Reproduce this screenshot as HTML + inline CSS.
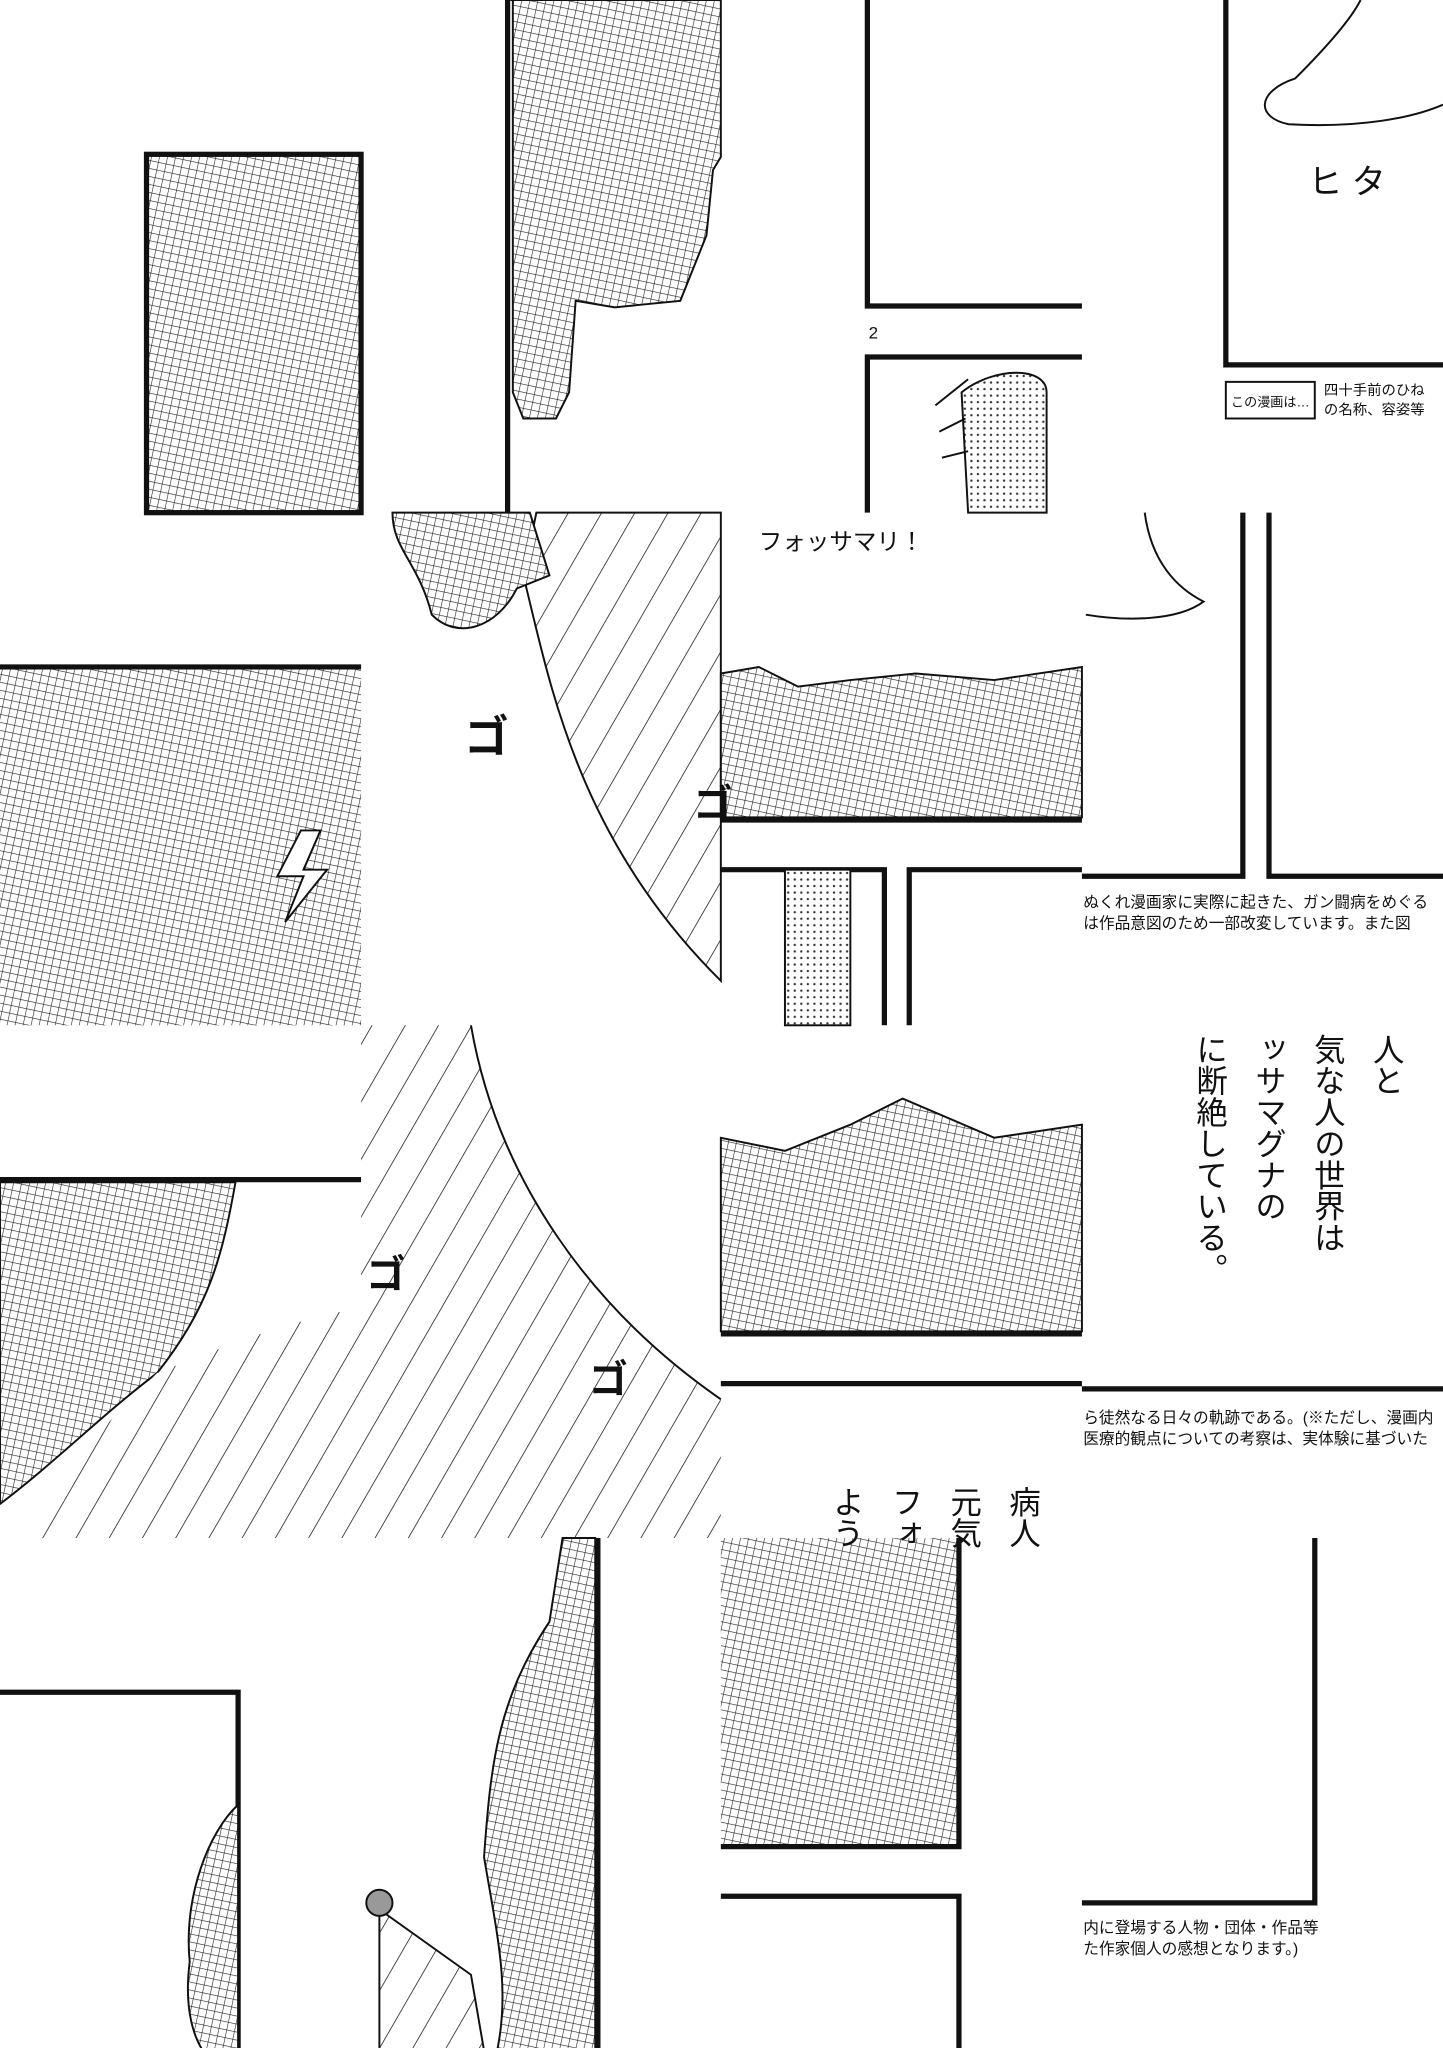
<!DOCTYPE html>
<html><head><meta charset="utf-8"><style>
html,body{margin:0;padding:0;background:#fff;}
svg{display:block;}
text{font-family:"Liberation Sans","Noto Sans CJK JP",sans-serif;fill:#111;}
</style></head><body>
<svg width="1443" height="2048" viewBox="0 0 1103 1566" preserveAspectRatio="none" xmlns="http://www.w3.org/2000/svg">
<defs>
<pattern id="ch" width="6" height="6" patternUnits="userSpaceOnUse" patternTransform="rotate(12)">
<rect width="6" height="6" fill="#fff"/>
<path d="M0 0H6M0 0V6" stroke="#222" stroke-width="0.9"/>
</pattern>
<pattern id="hl" width="22" height="22" patternUnits="userSpaceOnUse" patternTransform="rotate(-60)">
<rect width="22" height="22" fill="#fff"/><path d="M0 0H22" stroke="#111" stroke-width="1.2"/>
</pattern>
<pattern id="dot" width="5" height="5" patternUnits="userSpaceOnUse">
<rect width="5" height="5" fill="#fff"/><circle cx="2.5" cy="2.5" r="0.9" fill="#333"/>
</pattern>
</defs>
<rect width="1103" height="1566" fill="#fff"/>
<g stroke="#111" fill="none" stroke-linecap="butt">
<!-- Row 0 -->
<rect x="112" y="118" width="164" height="274" fill="url(#ch)" stroke-width="4"/>
<path d="M390 0H551V120L545 130L540 180L520 230L470 235L440 230L435 300L425 320L400 320L392 300V0Z" fill="url(#ch)" stroke-width="1.5"/>
<path d="M388 0V392" stroke-width="4"/>
<path d="M663 0V234H827" stroke-width="4"/>
<path d="M663 392V273H827" stroke-width="4"/>
<path d="M735 300C760 280 800 280 800 300L800 392H740Z" fill="url(#dot)" stroke-width="1.5"/>
<path d="M715 310L740 290M718 330L738 320M720 350L740 345" stroke-width="1.5"/>
<path d="M937 0V279H1103" stroke-width="4"/>
<path d="M1040 0C1030 20 1000 50 990 60C960 70 960 90 985 95C1040 98 1080 90 1103 80" stroke-width="1.5"/>
<rect x="937" y="292" width="68" height="28" stroke-width="1.5"/>
<!-- Row 1 -->
<path d="M0 510H276" stroke-width="4"/>
<rect x="0" y="512" width="276" height="272" fill="url(#ch)" stroke="none"/>
<path d="M230 635L212 670L232 670L218 705L250 665L232 665L245 635Z" fill="#fff" stroke-width="1.5"/>
<path d="M400 440C420 520 440 640 551 750V392H410Z" fill="url(#hl)" stroke-width="1.5"/>
<path d="M300 392C300 420 320 430 330 470C350 490 380 480 395 450L420 440L405 392Z" fill="url(#ch)" stroke-width="1.5"/>
<path d="M551 515L580 510L610 525L650 520L700 515L760 520L827 510V625H551Z" fill="url(#ch)" stroke-width="1.5"/>
<path d="M551 627H827" stroke-width="4"/>
<path d="M551 665H676V784M695 784V665H827" stroke-width="4"/>
<rect x="600" y="665" width="50" height="119" fill="url(#dot)" stroke-width="1.5"/>
<path d="M950 392V670H827M970 392V670H1103" stroke-width="4"/>
<path d="M875 392C880 430 900 450 920 460C900 475 860 475 830 470" stroke-width="1.5"/>
<!-- Row 2 -->
<path d="M0 902H276" stroke-width="4"/>
<path d="M0 904H180C170 960 160 1000 120 1050C80 1080 40 1120 0 1150Z" fill="url(#ch)" stroke-width="1.5"/>
<path d="M120 1050C80 1090 40 1130 20 1176H276V1000C220 1010 170 1030 120 1050Z" fill="url(#hl)" stroke="none"/>
<path d="M276 784H360C380 900 450 1000 551 1070V1176H276Z" fill="url(#hl)" stroke="none"/>
<path d="M360 784C380 900 450 1000 551 1070" stroke-width="1.5"/>
<path d="M551 870L600 880L650 860L690 840L760 870L827 860V1018H551Z" fill="url(#ch)" stroke-width="1.5"/>
<path d="M551 1020H827M551 1058H827" stroke-width="4"/>
<path d="M827 1062H1103" stroke-width="4"/>
<!-- Row 3 -->
<path d="M0 1294H182V1568" stroke-width="4"/>
<path d="M182 1380C160 1400 140 1450 145 1500C140 1540 150 1560 155 1568H182Z" fill="url(#ch)" stroke-width="1.5"/>
<path d="M455 1176V1568H380C390 1520 380 1480 370 1420C375 1350 380 1300 420 1240L430 1176Z" fill="url(#ch)" stroke-width="1.5"/>
<path d="M457 1176V1568" stroke-width="4"/>
<path d="M290 1460L360 1510L370 1568H290Z" fill="url(#hl)" stroke-width="1.5"/>
<circle cx="290" cy="1455" r="10" fill="#999" stroke-width="1.5"/>
<rect x="551" y="1176" width="182" height="234" fill="url(#ch)" stroke="none"/>
<path d="M551 1412H733V1176" stroke-width="4"/>
<path d="M551 1450H733V1568" stroke-width="4"/>
<path d="M1005 1176V1455H827" stroke-width="4"/>
</g>
<!-- Text -->
<text x="664" y="259" font-size="13">2</text>
<text x="1000" y="148" font-size="26">ヒ タ</text>
<text x="941" y="311" font-size="10">この漫画は…</text>
<text x="1012" y="302" font-size="11">四十手前のひね</text>
<text x="1012" y="317" font-size="11">の名称、容姿等</text>
<text x="580" y="420" font-size="18">フォッサマリ！</text>
<text x="355" y="575" font-size="34" font-weight="bold">ゴ</text>
<text x="530" y="625" font-size="30" font-weight="bold">ゴ</text>
<text x="828" y="694" font-size="12">ぬくれ漫画家に実際に起きた、ガン闘病をめぐる</text>
<text x="828" y="710" font-size="12">は作品意図のため一部改変しています。また図</text>
<text x="280" y="985" font-size="30" font-weight="bold">ゴ</text>
<text x="450" y="1065" font-size="30" font-weight="bold">ゴ</text>
<text x="828" y="1088" font-size="12">ら徒然なる日々の軌跡である。(※ただし、漫画内</text>
<text x="828" y="1104" font-size="12">医療的観点についての考察は、実体験に基づいた</text>
<text x="828" y="1478" font-size="12">内に登場する人物・団体・作品等</text>
<text x="828" y="1494" font-size="12">た作家個人の感想となります。)</text>
<g font-size="24" style="writing-mode:vertical-rl">
<text x="1060" y="790" style="writing-mode:vertical-rl">人と</text>
<text x="1015" y="790" style="writing-mode:vertical-rl">気な人の世界は</text>
<text x="970" y="790" style="writing-mode:vertical-rl">ッサマグナの</text>
<text x="925" y="790" style="writing-mode:vertical-rl">に断絶している。</text>
<text x="782" y="1136" style="writing-mode:vertical-rl">病人</text>
<text x="737" y="1136" style="writing-mode:vertical-rl">元気</text>
<text x="692" y="1136" style="writing-mode:vertical-rl">フォ</text>
<text x="647" y="1136" style="writing-mode:vertical-rl">よう</text>
</g>
</svg>
</body></html>
